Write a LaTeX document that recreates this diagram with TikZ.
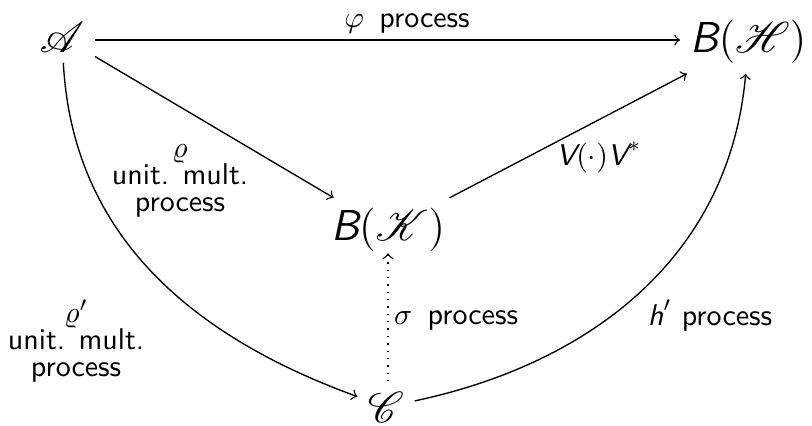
\documentclass[tikz,border=0pt]{standalone}
\usepackage{mathrsfs}
\renewcommand{\familydefault}{\sfdefault}
\begin{document}
\begin{tikzpicture}[x=0.33333pt,y=0.33333pt,
  obj/.style={font=\Large},
  lbl/.style={font=\fontsize{10}{9}\selectfont, align=center},
  arr/.style={->, line width=0.45pt}]
\useasboundingbox (0,0) rectangle (812,425);
\node[obj] (A) at (62,388) {$\mathscr{A}$};
\node[obj] (BH) at (748.5,383.5) {$\textsl{B}(\mathscr{H})$};
\node[obj] (BK) at (388,195) {$\textsl{B}(\mathscr{K})$};
\node[obj] (C) at (386,18) {$\mathscr{C}$};
\draw[arr] ([yshift=-1pt]A.east) -- ([yshift=-1pt]A.east -| BH.west);
\draw[arr] (A) -- (BK);
\draw[arr] (BK) -- (BH);
\draw[arr] (A) to[out=-87,in=160] (C);
\draw[arr] (C) to[out=12,in=-95] (BH);
\draw[arr,dotted,shorten >=-3pt] (C.north -| BK) -- (BK.south);
\node[lbl, anchor=base] (phi) at (407,398) {$\varphi$\hspace{1.8pt} process};
\node[lbl] (rho) at (180,244) {$\varrho$\\unit. mult.\\process};
\node[lbl, anchor=base] (V) at (599,260) {$\textsl{V}(\cdot)\textsl{V}^*$};
\node[lbl] (rhop) at (76,84) {$\varrho'$\\unit. mult.\\process};
\node[lbl, anchor=base] (sig) at (456,101) {$\sigma$\hspace{1.8pt} process};
\node[lbl, anchor=base] (hp) at (710,100) {$\textsl{h}'$ process};
\end{tikzpicture}
\end{document}
